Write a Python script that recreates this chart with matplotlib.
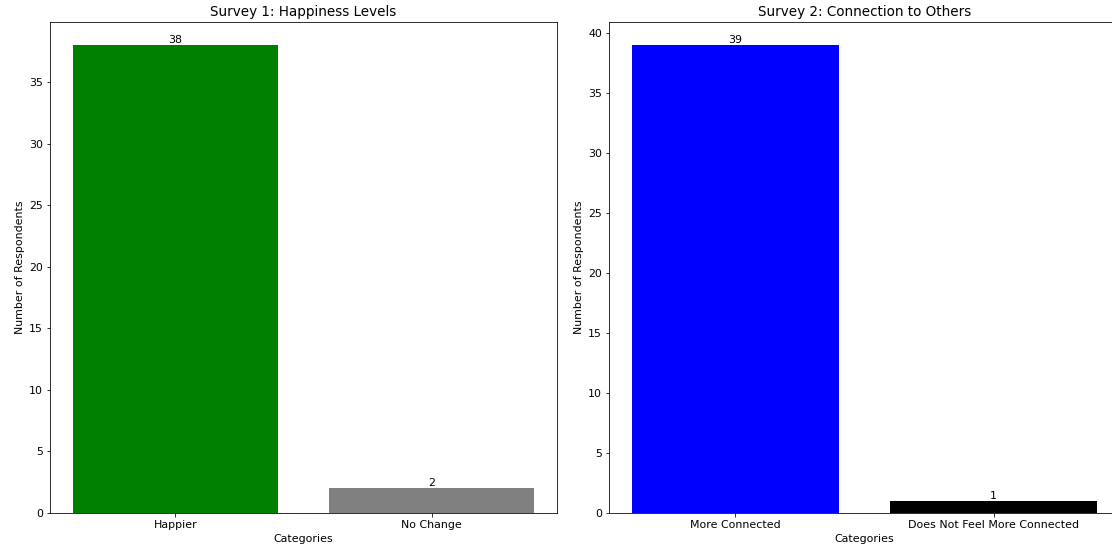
import matplotlib
matplotlib.use("Agg")
import matplotlib.pyplot as plt

survey1_categories = ["Happier", "No Change"]
survey1_counts = [38, 2]
survey1_colors = ["green", "gray"]

survey2_categories = ["More Connected", "Does Not Feel More Connected"]
survey2_counts = [39, 1]
survey2_colors = ["blue", "black"]

W, H = 1112, 552
fig, (ax1, ax2) = plt.subplots(1, 2, figsize=(W / 72, H / 72), dpi=72)
# axes placed to match the reference pixel boxes (right one runs past the crop)
ax1.set_position([50 / W, 1 - 513 / H, (557 - 50) / W, (513 - 22) / H])
ax2.set_position([609 / W, 1 - 513 / H, (1120 - 609) / W, (513 - 22) / H])

for ax, cats, counts, colors, title in [
    (ax1, survey1_categories, survey1_counts, survey1_colors, "Survey 1: Happiness Levels"),
    (ax2, survey2_categories, survey2_counts, survey2_colors, "Survey 2: Connection to Others"),
]:
    bars = ax.bar(cats, counts, color=colors)
    for b in bars:
        ax.text(b.get_x() + b.get_width() / 2, b.get_height(), str(int(b.get_height())),
                ha="center", va="bottom", fontsize=11)
    ax.set_title(title, fontsize=13.5)
    ax.set_xlabel("Categories", fontsize=11)
    ax.set_ylabel("Number of Respondents", fontsize=11)
    ax.tick_params(labelsize=11)

fig.savefig("out.png", dpi=72)
